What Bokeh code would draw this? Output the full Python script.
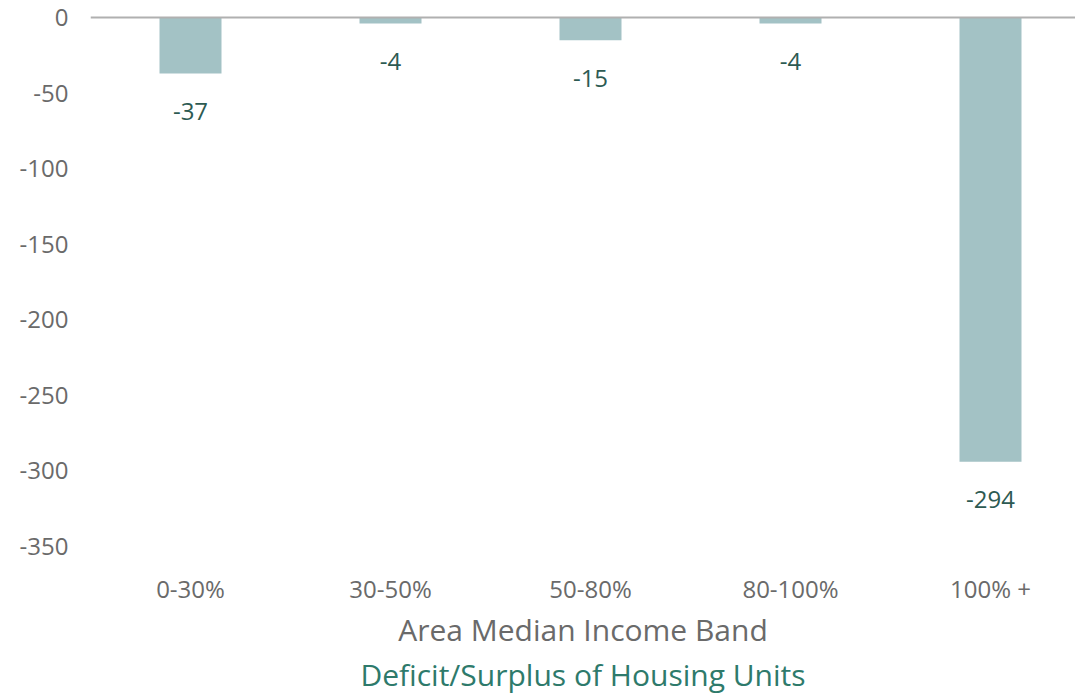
from bokeh.plotting import figure
from bokeh.models import Range1d, FixedTicker, ColumnDataSource, Title, Span
from bokeh.core.properties import value
from bokeh.embed import file_html
from bokeh.resources import INLINE

categories = ["0-30%", "30-50%", "50-80%", "80-100%", "100% +"]
values = [-37, -4, -15, -4, -294]
y_ticks = [0, -50, -100, -150, -200, -250, -300, -350]
value_labels = [str(v) for v in values]
x_title = "Area Median Income Band"
chart_title = "Deficit/Surplus of Housing Units"

FONT = "Open Sans"
x = list(range(len(categories)))
src = ColumnDataSource(dict(x=x, top=[0] * len(values), bottom=values, label=value_labels))

p = figure(width=1075, height=693, output_backend="svg", toolbar_location=None,
           x_range=Range1d(-0.5, 4.425), y_range=Range1d(-356, 6),
           min_border_left=90, min_border_right=0, min_border_top=8,
           min_border_bottom=131)
p.outline_line_color = None
p.background_fill_color = "white"
p.border_fill_color = "white"
p.xgrid.visible = False
p.ygrid.visible = False

p.vbar(x="x", top="top", bottom="bottom", width=0.31, source=src,
       fill_color="#a3c2c5", line_color=None)
p.add_layout(Span(location=0, dimension="width", line_color="#b0b0b0", line_width=2))

p.text(x="x", y="bottom", text="label", source=src, y_offset=38,
       text_align="center", text_baseline="middle", text_font=value(FONT),
       text_font_size="24px", text_color="#2d5a52")

for ax in (p.xaxis, p.yaxis):
    ax.axis_line_color = None
    ax.major_tick_line_color = None
    ax.minor_tick_line_color = None
    ax.major_tick_out = 0
    ax.major_label_text_font = FONT
    ax.major_label_text_color = "#6a6a6a"

p.xaxis.ticker = FixedTicker(ticks=x)
p.xaxis.major_label_overrides = {i: c for i, c in enumerate(categories)}
p.xaxis.major_label_text_font_size = "24px"
p.xaxis.major_label_standoff = 16
p.xaxis.axis_label = x_title
p.xaxis.axis_label_text_font = FONT
p.xaxis.axis_label_text_font_style = "normal"
p.xaxis.axis_label_text_font_size = "30px"
p.xaxis.axis_label_text_color = "#6a6a6a"
p.xaxis.axis_label_standoff = 1

p.yaxis.ticker = FixedTicker(ticks=y_ticks)
p.yaxis.major_label_overrides = {t: str(t) for t in y_ticks}
p.yaxis.major_label_text_font_size = "24px"
p.yaxis.major_label_standoff = 22

p.add_layout(Title(text=chart_title, align="center", offset=-7,
                   text_font=FONT, text_font_style="normal", text_font_size="30px",
                   text_color="#2e7a6b", standoff=-2), "below")

open("out.html", "w").write(file_html(p, INLINE))
